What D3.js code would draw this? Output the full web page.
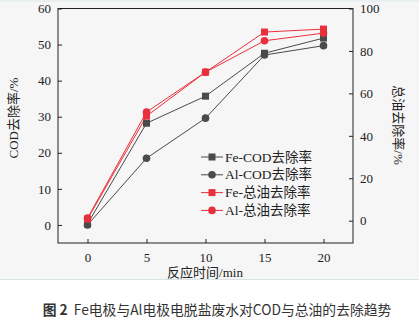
<!DOCTYPE html>
<html><head><meta charset="utf-8">
<script src="https://cdn.jsdelivr.net/npm/d3@7"></script>
<style>
html,body{margin:0;padding:0;background:#fff;}
svg{display:block;}
</style></head>
<body>
<svg id="c" width="419" height="322"></svg>
<script>
const times = [0, 5, 10, 15, 20];
const feCOD = [0.3, 28.2, 35.7, 47.6, 51.8];
const alCOD = [0, 18.5, 29.6, 47.1, 49.7];
const feOil = [0.8, 49.3, 70, 88.9, 90.3];
const alOil = [1.2, 51.2, 70, 84.8, 88.4];
const xTicks = [0, 5, 10, 15, 20];
const leftTicks = [0, 10, 20, 30, 40, 50, 60];
const rightTicks = [0, 20, 40, 60, 80, 100];
const legendLabels = ["Fe-COD去除率", "Al-COD去除率", "Fe-总油去除率", "Al-总油去除率"];

const svg = d3.select("#c");
const serif = "'Liberation Serif','Times New Roman','Noto Sans CJK SC',serif";
const dark = "#4a4a4a", red = "#e8303d";

svg.append("rect").attr("x",0).attr("y",0).attr("width",419).attr("height",279).attr("fill","#f6f6f6");
svg.append("line").attr("x1",0).attr("x2",419).attr("y1",1).attr("y2",1).attr("stroke","#dde8e8");
svg.append("line").attr("x1",0).attr("x2",419).attr("y1",279.5).attr("y2",279.5).attr("stroke","#d8e4e4");

const L = 58, R = 353, T = 8.5, B = 243;
const x = d3.scaleLinear().domain([-2.5, 22.5]).range([L, R]);
const yL = d3.scaleLinear().domain([-5, 60]).range([B, T]);
const yR = d3.scaleLinear().domain([-10.5, 100]).range([B, T]);

svg.append("rect").attr("x",L).attr("y",T).attr("width",R-L).attr("height",B-T)
  .attr("fill","none").attr("stroke","#222").attr("stroke-width",1);

const gx = svg.append("g").attr("transform",`translate(0,${B})`)
  .call(d3.axisBottom(x).tickValues(xTicks).tickSize(-4).tickPadding(10));
const gl = svg.append("g").attr("transform",`translate(${L},0)`)
  .call(d3.axisLeft(yL).tickValues(leftTicks).tickSize(-4).tickPadding(7));
const gr = svg.append("g").attr("transform",`translate(${R},0)`)
  .call(d3.axisRight(yR).tickValues(rightTicks).tickSize(-4).tickPadding(7));
[gx,gl,gr].forEach(g=>{
  g.select(".domain").remove();
  g.selectAll("line").attr("stroke","#222");
  g.selectAll("text").attr("font-family",serif).attr("font-size",13).attr("fill","#222");
});

const series = [
  {vals: feCOD, y: yL, color: dark, shape: "square"},
  {vals: alCOD, y: yL, color: dark, shape: "circle"},
  {vals: feOil, y: yR, color: red, shape: "square"},
  {vals: alOil, y: yR, color: red, shape: "circle"}
];
const line = (ys) => d3.line().x((d,i)=>x(times[i])).y(d=>ys(d));
function marker(g, shape, color, cx, cy){
  if(shape==="square") g.append("rect").attr("x",cx-3.5).attr("y",cy-3.5).attr("width",7).attr("height",7).attr("fill",color);
  else g.append("circle").attr("cx",cx).attr("cy",cy).attr("r",3.8).attr("fill",color);
}
series.forEach(s=>{
  svg.append("path").datum(s.vals).attr("d", line(s.y)).attr("fill","none")
    .attr("stroke",s.color).attr("stroke-width",1);
});
series.forEach(s=>{
  const g = svg.append("g");
  s.vals.forEach((v,i)=>marker(g, s.shape, s.color, x(times[i]), s.y(v)));
});

// legend
const lg = svg.append("g");
series.forEach((s,i)=>{
  const yy = 157 + i*17.8;
  lg.append("line").attr("x1",201).attr("x2",223).attr("y1",yy).attr("y2",yy).attr("stroke",s.color).attr("stroke-width",1);
  marker(lg, s.shape, s.color, 212, yy);
  lg.append("text").attr("x",225).attr("y",yy+4.5).attr("font-family",serif).attr("font-size",13.5)
    .attr("fill","#222").text(legendLabels[i]);
});

// axis titles
svg.append("text").attr("transform","translate(18,118) rotate(-90)").attr("text-anchor","middle")
  .attr("font-family",serif).attr("font-size",13).attr("fill","#222").text("COD去除率/%");
svg.append("text").attr("transform","translate(394,125) rotate(90)").attr("text-anchor","middle")
  .attr("font-family",serif).attr("font-size",13).attr("fill","#222").text("总油去除率/%");
svg.append("text").attr("x",205).attr("y",277).attr("text-anchor","middle")
  .attr("font-family",serif).attr("font-size",13).attr("fill","#222").text("反应时间/min");

// caption
const cap = svg.append("text").attr("x",217).attr("y",315).attr("text-anchor","middle")
  .attr("font-family","'Noto Sans CJK SC','Noto Sans',sans-serif").attr("font-size",13.8).attr("fill","#333");
cap.append("tspan").attr("font-weight","bold").text("图 2");
cap.append("tspan").attr("dx",6).text("Fe电极与Al电极电脱盐废水对COD与总油的去除趋势");
</script>
</body></html>
